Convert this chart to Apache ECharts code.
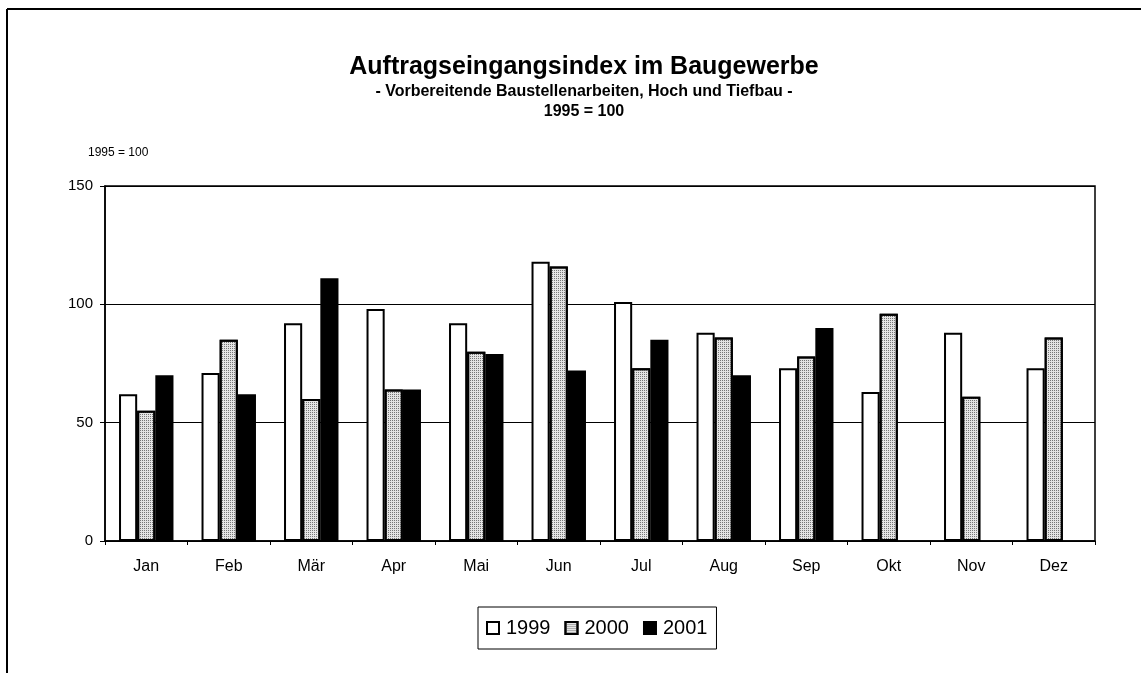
<!DOCTYPE html>
<html>
<head>
<meta charset="utf-8">
<title>Auftragseingangsindex im Baugewerbe</title>
<script src="https://cdn.jsdelivr.net/npm/echarts@6/dist/echarts.min.js"></script>
<style>
html, body { margin: 0; padding: 0; background: #fff; }
#main { width: 1141px; height: 673px; }
</style>
</head>
<body>
<div id="main"></div>
<script>
// Monate und Werte (1995 = 100)
var months = ['Jan', 'Feb', 'Mär', 'Apr', 'Mai', 'Jun', 'Jul', 'Aug', 'Sep', 'Okt', 'Nov', 'Dez'];
var years = ['1999', '2000', '2001'];
var v1999 = [62, 71, 92, 98, 92, 118, 101, 88, 73, 63, 88, 73];
var v2000 = [55, 85, 60, 64, 80, 116, 73, 86, 78, 96, 61, 86];
var v2001 = [70, 62, 111, 64, 79, 72, 85, 70, 90, null, null, null];
var yTicks = [0, 50, 100, 150];

var font = '"Liberation Sans", Arial, sans-serif';

var myChart = echarts.init(document.getElementById('main'));

var barBase = function(name, data, color, decal){
    var s = {
        name: name,
        type: 'bar',
        data: data,
        barGap: '0%',
        barCategoryGap: '34%',
        itemStyle: {
            color: color,
            borderColor: '#000',
            borderWidth: 2
        },
        emphasis: { disabled: true }
    };
    if(decal) s.itemStyle.decal = decal;
    return s;
}

var option = {
    animation: false,
    backgroundColor: '#fff',
    title: [
        {
            text: 'Auftragseingangsindex im Baugewerbe',
            left: 579, top: 50, textAlign: 'center',
            textStyle: { fontFamily: font, fontSize: 25, fontWeight: 'bold', color: '#000' }
        },
        {
            text: '- Vorbereitende Baustellenarbeiten, Hoch und Tiefbau -',
            left: 579, top: 79, textAlign: 'center',
            textStyle: { fontFamily: font, fontSize: 16, fontWeight: 'bold', color: '#000' }
        },
        {
            text: '1995 = 100',
            left: 579, top: 99, textAlign: 'center',
            textStyle: { fontFamily: font, fontSize: 16, fontWeight: 'bold', color: '#000' }
        }
    ],
    graphic: [
        // äußerer Rahmen (oben und links)
        { type: 'line', shape: { x1: 7, y1: 9, x2: 1141, y2: 9 }, style: { stroke: '#000', lineWidth: 2 } },
        { type: 'line', shape: { x1: 7, y1: 9, x2: 7, y2: 673 }, style: { stroke: '#000', lineWidth: 2 } },
        {
            type: 'text', left: 88, top: 147,
            style: { text: '1995 = 100', fontFamily: font, fontSize: 12, fill: '#000' }
        }
    ],
    legend: {
        data: years,
        icon: 'rect',
        left: 478,
        top: 607,
        padding: [11, 9, 11, 8],
        itemGap: 14,
        itemWidth: 12,
        itemHeight: 12,
        borderColor: '#000',
        borderWidth: 1,
        selectedMode: false,
        textStyle: { fontFamily: font, fontSize: 20, color: '#000', padding: [0, 0, 0, 2] }
    },
    grid: {
        left: 105,
        right: 46,
        top: 186,
        bottom: 132,
        show: true,
        borderColor: '#000',
        borderWidth: 1.5,
        backgroundColor: 'transparent'
    },
    xAxis: {
        type: 'category',
        data: months,
        axisLine: { lineStyle: { color: '#000', width: 1.5 } },
        axisTick: { show: true, length: 4, alignWithLabel: false, lineStyle: { color: '#000' } },
        axisLabel: { fontFamily: font, fontSize: 16, color: '#000', margin: 18 }
    },
    yAxis: {
        type: 'value',
        min: yTicks[0],
        max: yTicks[yTicks.length - 1],
        interval: 50,
        axisLine: { show: true, lineStyle: { color: '#000', width: 1.5 } },
        axisTick: { show: true, length: 5, lineStyle: { color: '#000' } },
        axisLabel: { fontFamily: font, fontSize: 15, color: '#000', margin: 12 },
        splitLine: { show: true, lineStyle: { color: '#000', width: 1 } }
    },
    series: [
        barBase(years[0], v1999, '#fff'),
        barBase(years[1], v2000, '#e4e4e4', {
            symbol: 'rect', symbolSize: 1,
            dashArrayX: [1, 1], dashArrayY: [1, 1],
            color: '#777'
        }),
        barBase(years[2], v2001, '#000')
    ]
};

myChart.setOption(option);
</script>
</body>
</html>
